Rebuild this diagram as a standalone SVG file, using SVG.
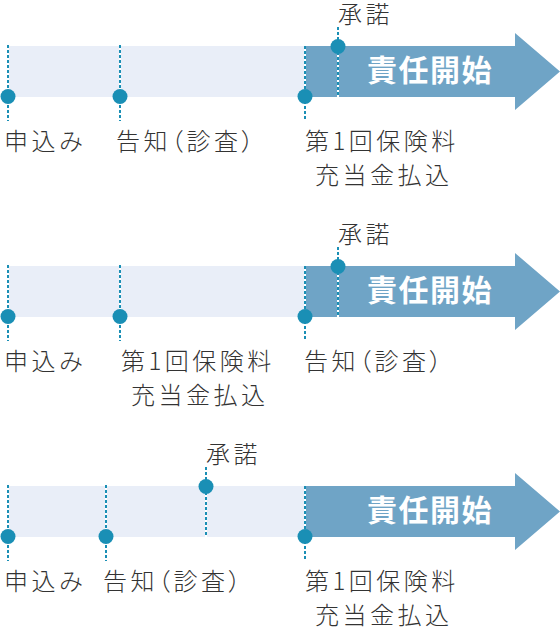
<svg xmlns="http://www.w3.org/2000/svg" width="560" height="628" viewBox="0 0 560 628">
<style>
.band{fill:#e9eef8}
.arrow{fill:#6fa4c6}
.dot{fill:#1a8fb5}
.ln{stroke:#1a8fb5;stroke-width:2;stroke-dasharray:3 2;fill:none}
.lnw{stroke:#ffffff;stroke-width:2;fill:none}
.t{font-family:"Noto Sans CJK JP","Noto Sans",sans-serif;font-size:24px;font-weight:300;fill:#333333;letter-spacing:3.5px;font-feature-settings:"palt"}
.h{font-family:"Noto Sans CJK JP","Noto Sans",sans-serif;font-size:30px;font-weight:bold;fill:#ffffff;letter-spacing:1.5px;font-feature-settings:"palt"}
</style>
<defs>
<g id="panelbase">
<rect class="band" x="8" y="46" width="297" height="51"/>
<path class="arrow" d="M305 46 H515 V33 L560 71.5 L515 110 V97 H305 Z"/>
<text class="h" x="367" y="81">責任開始</text>
</g>
</defs>

<g id="panel1">
<use href="#panelbase"/>
<g id="p1-apply"><line class="lnw" x1="8" y1="45" x2="8" y2="121"/><line class="ln" x1="8" y1="45" x2="8" y2="121"/><circle class="dot" cx="8" cy="96.5" r="7.5"/><text class="t" x="4" y="150">申込み</text></g>
<g id="p1-notice"><line class="lnw" x1="120" y1="45" x2="120" y2="121"/><line class="ln" x1="120" y1="45" x2="120" y2="121"/><circle class="dot" cx="120" cy="96.5" r="7.5"/><text class="t" x="116" y="150">告知（診査）</text></g>
<g id="p1-premium"><line class="lnw" x1="305" y1="46" x2="305" y2="121"/><line class="ln" x1="305" y1="46" x2="305" y2="121"/><circle class="dot" cx="305" cy="96.5" r="7.5"/><text class="t" x="305" y="150">第1回保険料</text><text class="t" x="315" y="184">充当金払込</text></g>
<g id="p1-approve"><line class="lnw" x1="338" y1="27" x2="338" y2="97"/><line class="ln" x1="338" y1="27" x2="338" y2="97"/><circle class="dot" cx="338" cy="46.5" r="7.5"/><text class="t" x="338" y="22.5">承諾</text></g>
</g>

<g id="panel2" transform="translate(0,220)">
<use href="#panelbase"/>
<g id="p2-apply"><line class="lnw" x1="8" y1="45" x2="8" y2="121"/><line class="ln" x1="8" y1="45" x2="8" y2="121"/><circle class="dot" cx="8" cy="96.5" r="7.5"/><text class="t" x="4" y="150">申込み</text></g>
<g id="p2-premium"><line class="lnw" x1="120" y1="45" x2="120" y2="121"/><line class="ln" x1="120" y1="45" x2="120" y2="121"/><circle class="dot" cx="120" cy="96.5" r="7.5"/><text class="t" x="121" y="150">第1回保険料</text><text class="t" x="131" y="184">充当金払込</text></g>
<g id="p2-notice"><line class="lnw" x1="305" y1="46" x2="305" y2="121"/><line class="ln" x1="305" y1="46" x2="305" y2="121"/><circle class="dot" cx="305" cy="96.5" r="7.5"/><text class="t" x="304" y="150">告知（診査）</text></g>
<g id="p2-approve"><line class="lnw" x1="338" y1="27" x2="338" y2="97"/><line class="ln" x1="338" y1="27" x2="338" y2="97"/><circle class="dot" cx="338" cy="46.5" r="7.5"/><text class="t" x="338" y="22.5">承諾</text></g>
</g>

<g id="panel3" transform="translate(0,440)">
<use href="#panelbase"/>
<g id="p3-apply"><line class="lnw" x1="8" y1="45" x2="8" y2="121"/><line class="ln" x1="8" y1="45" x2="8" y2="121"/><circle class="dot" cx="8" cy="96.5" r="7.5"/><text class="t" x="4" y="150">申込み</text></g>
<g id="p3-notice"><line class="lnw" x1="106" y1="45" x2="106" y2="121"/><line class="ln" x1="106" y1="45" x2="106" y2="121"/><circle class="dot" cx="106" cy="96.5" r="7.5"/><text class="t" x="103" y="150">告知（診査）</text></g>
<g id="p3-approve"><line class="lnw" x1="206" y1="27" x2="206" y2="97"/><line class="ln" x1="206" y1="27" x2="206" y2="97"/><circle class="dot" cx="206" cy="46.5" r="7.5"/><text class="t" x="206" y="22.5">承諾</text></g>
<g id="p3-premium"><line class="lnw" x1="305" y1="46" x2="305" y2="121"/><line class="ln" x1="305" y1="46" x2="305" y2="121"/><circle class="dot" cx="305" cy="96.5" r="7.5"/><text class="t" x="305" y="150">第1回保険料</text><text class="t" x="315" y="184">充当金払込</text></g>
</g>
</svg>
